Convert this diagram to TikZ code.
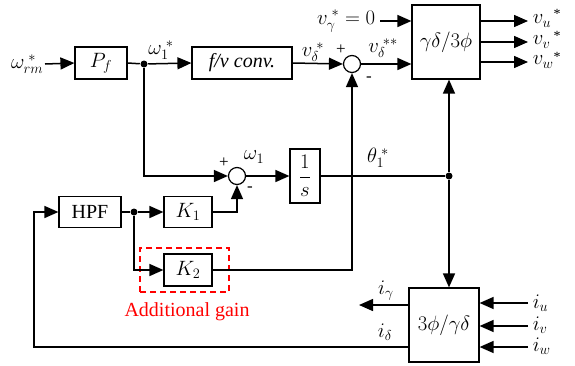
\documentclass[tikz,border=0pt]{standalone}
\usepackage{fontspec}
\setmainfont{Liberation Serif}
\usetikzlibrary{arrows.meta,calc}
\begin{document}
\begin{tikzpicture}[x=1pt,y=-1pt,
  font=\fontsize{20}{24}\selectfont,
  line width=1.5pt,
  >={Triangle[length=14pt,width=12pt]},
  blk/.style={draw, line width=1.2pt, inner sep=0pt},
  sumc/.style={draw, circle, line width=1.2pt, minimum size=17pt, inner sep=0pt},
  lbl/.style={inner sep=1pt},
  olbl/.style={inner sep=0pt, anchor=west},
  sgn/.style={inner sep=0pt, font=\fontsize{17}{20}\selectfont},
  star/.style={inner sep=0pt, font=\fontsize{14}{14}\selectfont},
  dot/.style={fill, circle, inner sep=0pt, minimum size=7pt}]
\useasboundingbox (0,0) rectangle (575,365);

% blocks
\node[blk, minimum width=52pt, minimum height=32pt] (pf) at (101,63) {$P_f$};
\node[blk, minimum width=100pt, minimum height=32pt] (fv) at (242,63) {\textit{f/v conv.}};
\node[sumc] (s1) at (352,64) {};
\node[blk, minimum width=68pt, minimum height=74pt] (tr1) at (446,42) {$\gamma\delta/3\phi$};
\node[sumc] (s2) at (237,176) {};
\node[blk, minimum width=30pt, minimum height=54pt] (int) at (305,176) {$\displaystyle\frac{1}{s}$};
\node[blk, minimum width=62pt, minimum height=31pt] (hpf) at (90,212) {HPF};
\node[blk, minimum width=48pt, minimum height=31pt] (k1) at (188,212) {$K_1$};
\node[blk, minimum width=48pt, minimum height=32pt] (k2) at (188,270) {$K_2$};
\node[blk, minimum width=70pt, minimum height=74pt] (tr2) at (444,325) {$3\phi/\gamma\delta$};
\node[draw=red, line width=1.2pt, dash pattern=on 6pt off 4pt, minimum width=89pt, minimum height=44pt, inner sep=0pt] (add) at (184.5,270) {};
\node[text=red, lbl] (addl) at (187,312) {Additional gain};

% junctions
\node[dot] (j1) at (144,64) {};
\node[dot] (j2) at (134,212) {};
\node[dot] (j3) at (449,176) {};

% free ends
\coordinate (win) at (45,64);
\coordinate (vgin) at (380,21);
\coordinate (vuo) at (528,21);
\coordinate (vvo) at (528,42);
\coordinate (vwo) at (528,62);
\coordinate (igo) at (359,305);
\coordinate (iui) at (528,303);
\coordinate (ivi) at (528,326);
\coordinate (iwi) at (528,347);
\coordinate (fbl) at (34,347);
\coordinate (fbt) at (34,212);

% connectors
\draw[->] (win) -- (pf.west);
\draw (pf.east) -- (j1);
\draw[->] (j1) -- (fv.west);
\draw[->] (fv.east) -- (s1.west);
\draw[->] (s1.east) -- (s1.east -| tr1.west);
\draw[->] (vgin) -- (vgin -| tr1.west);
\draw[->] (vuo -| tr1.east) -- (vuo);
\draw[->] (vvo -| tr1.east) -- (vvo);
\draw[->] (vwo -| tr1.east) -- (vwo);
\draw[->] (j1) |- (s2.west);
\draw[->] (s2.east) -- (int.west);
\draw (int.east) -- (j3);
\draw[->] (j3) -- (j3 |- tr1.south);
\draw[->] (j3) -- (j3 |- tr2.north);
\draw (hpf.east) -- (j2);
\draw[->] (j2) -- (k1.west);
\draw[->] (k1.east) -| (s2.south);
\draw[->] (j2) |- (k2.west);
\draw[->] (k2.east) -| (s1.south);
\draw[->] (igo -| tr2.west) -- (igo);
\draw[->] (fbl -| tr2.west) -- (fbl) -- (fbt) -- (hpf.west);
\draw[->] (iui) -- (iui -| tr2.east);
\draw[->] (ivi) -- (ivi -| tr2.east);
\draw[->] (iwi) -- (iwi -| tr2.east);

% labels
\node[lbl, anchor=east] at (win) {$\omega_{rm}^{\;*}$};
\node[lbl] at (161,50) {$\omega_1^{\;*}$};
\node[lbl] at (313,52) {$v_\delta^{\;*}$};
\node[sgn] at (341,50) {+};
\node[sgn] at (369,79) {-};
\node[lbl] at (383,48) {$v_\delta^{\;**}$};
\node[lbl, anchor=east] at (377,21) {$v_\gamma^{\;*}=0$};
\node[olbl] at (532,21) {$v_u$};
\node[olbl] at (532,42) {$v_v$};
\node[olbl] at (532,62) {$v_w$};
\node[star] at (557,14) {*};
\node[star] at (557,36) {*};
\node[star] at (557,57) {*};
\node[sgn] at (224,163) {+};
\node[sgn] at (250,189) {-};
\node[lbl] at (254,157) {$\omega_1$};
\node[lbl] at (378,158) {$\theta_1^{\;*}$};
\node[lbl] at (386,291) {$i_\gamma$};
\node[lbl] at (385,332) {$i_\delta$};
\node[olbl] at (532,303) {$i_u$};
\node[olbl] at (532,325) {$i_v$};
\node[olbl] at (532,346) {$i_w$};
\end{tikzpicture}
\end{document}
